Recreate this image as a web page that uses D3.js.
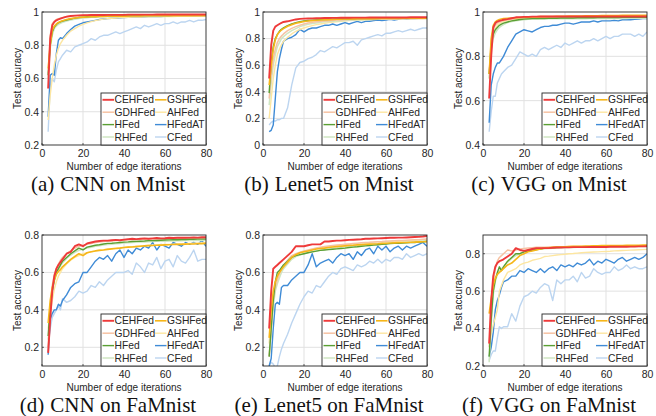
<!DOCTYPE html>
<html><head><meta charset="utf-8">
<script src="https://cdn.jsdelivr.net/npm/d3@7"></script>
<style>body{margin:0;background:#fff}svg{display:block}</style>
</head><body>
<svg id="c" width="656" height="416"></svg>
<script>
const iters = [3,4,5,6,7,8,9,10,12,14,16,18,20,22,24,26,28,30,32,34,36,38,40,42,44,46,48,50,52,54,56,58,60,62,64,66,68,70,72,74,76,78,80];
const methods = ["CEHFed","GDHFed","HFed","RHFed","GSHFed","AHFed","HFedAT","CFed"];
const legendOrder = ["CEHFed","GSHFed","GDHFed","AHFed","HFed","HFedAT","RHFed","CFed"];
const captionTags = ["(a)","(b)","(c)","(d)","(e)","(f)"];
const captionTexts = ["CNN on Mnist","Lenet5 on Mnist","VGG on Mnist","CNN on FaMnist","Lenet5 on FaMnist","VGG on FaMnist"];
const yDomains = [[0.2,1],[0,1],[0.4,1],[0.1,0.8],[0.1,0.8],[0.2,0.9]];
const yTicks = [[0.2,0.4,0.6,0.8,1],[0,0.2,0.4,0.6,0.8,1],[0.4,0.6,0.8,1],[0.2,0.4,0.6,0.8],[0.2,0.4,0.6,0.8],[0.2,0.4,0.6,0.8]];
const xTicks = [0,20,40,60,80];

// series values, in the order of `methods`
const accCnnMnist = [
[0.54,0.84,0.92,0.94,0.95,0.955,0.96,0.965,
 0.972,0.976,0.978,0.98,0.981,0.981,0.982,0.982,0.982,0.982,
 0.983,0.983,0.983,0.983,0.983,0.984,0.984,0.984,0.984,0.984,
 0.984,0.984,0.985,0.985,0.985,0.985,0.985,0.985,0.985,0.985,
 0.985,0.985,0.985,0.985,0.985],
[0.63,0.86,0.93,0.945,0.955,0.96,0.963,0.966,
 0.972,0.975,0.977,0.978,0.979,0.98,0.98,0.98,0.981,0.981,
 0.981,0.981,0.982,0.982,0.982,0.982,0.982,0.982,0.983,0.983,
 0.983,0.983,0.983,0.983,0.983,0.983,0.983,0.983,0.983,0.983,
 0.983,0.983,0.983,0.983,0.983],
[0.62,0.8,0.88,0.91,0.925,0.935,0.94,0.945,
 0.952,0.958,0.963,0.967,0.969,0.971,0.972,0.973,0.974,0.975,
 0.975,0.976,0.976,0.977,0.977,0.977,0.978,0.978,0.978,0.978,
 0.978,0.979,0.979,0.979,0.979,0.979,0.98,0.98,0.98,0.98,
 0.98,0.98,0.98,0.98,0.98],
[0.6,0.78,0.86,0.9,0.915,0.925,0.932,0.938,
 0.946,0.952,0.957,0.961,0.964,0.966,0.968,0.969,0.97,0.971,
 0.972,0.972,0.973,0.973,0.974,0.974,0.974,0.975,0.975,0.975,
 0.975,0.976,0.976,0.976,0.976,0.976,0.977,0.977,0.977,0.977,
 0.977,0.977,0.977,0.977,0.977],
[0.66,0.8,0.89,0.915,0.928,0.937,0.943,0.948,
 0.955,0.96,0.964,0.967,0.969,0.97,0.971,0.972,0.973,0.973,
 0.974,0.974,0.975,0.975,0.975,0.976,0.976,0.976,0.976,0.977,
 0.977,0.977,0.977,0.977,0.977,0.977,0.977,0.977,0.977,0.977,
 0.978,0.978,0.978,0.978,0.978],
[0.35,0.5,0.6,0.68,0.74,0.78,0.81,0.83,
 0.86,0.885,0.9,0.915,0.925,0.935,0.942,0.948,0.953,0.957,
 0.96,0.962,0.964,0.966,0.967,0.968,0.969,0.97,0.97,0.971,
 0.971,0.972,0.972,0.972,0.973,0.973,0.973,0.974,0.974,0.974,
 0.974,0.975,0.975,0.975,0.975],
[0.37,0.62,0.63,0.62,0.75,0.83,0.845,0.84,
 0.87,0.895,0.915,0.925,0.935,0.94,0.945,0.95,0.955,0.958,
 0.96,0.962,0.963,0.965,0.967,0.968,0.969,0.97,0.97,0.971,
 0.972,0.972,0.973,0.973,0.974,0.974,0.975,0.975,0.976,0.976,
 0.977,0.977,0.978,0.978,0.979],
[0.28,0.55,0.6,0.58,0.65,0.7,0.72,0.74,
 0.77,0.76,0.79,0.8,0.81,0.82,0.84,0.83,0.85,0.86,
 0.86,0.87,0.88,0.87,0.88,0.89,0.9,0.91,0.9,0.92,
 0.91,0.92,0.93,0.92,0.93,0.93,0.94,0.93,0.94,0.94,
 0.95,0.94,0.95,0.95,0.955]
];
const accLenetMnist = [
[0.5,0.75,0.86,0.89,0.9,0.91,0.918,0.925,
 0.93,0.937,0.944,0.948,0.95,0.951,0.952,0.953,0.954,0.955,
 0.955,0.956,0.956,0.957,0.957,0.957,0.958,0.958,0.958,0.958,
 0.959,0.959,0.959,0.959,0.959,0.959,0.959,0.959,0.959,0.959,
 0.96,0.96,0.96,0.96,0.96],
[0.35,0.52,0.65,0.72,0.77,0.8,0.82,0.835,
 0.86,0.877,0.89,0.9,0.91,0.917,0.922,0.927,0.93,0.933,
 0.935,0.937,0.939,0.94,0.942,0.943,0.944,0.945,0.946,0.947,
 0.947,0.948,0.948,0.949,0.949,0.95,0.95,0.95,0.951,0.951,
 0.951,0.952,0.952,0.952,0.953],
[0.39,0.62,0.74,0.8,0.83,0.855,0.87,0.88,
 0.897,0.91,0.92,0.927,0.932,0.936,0.939,0.941,0.943,0.944,
 0.945,0.946,0.947,0.948,0.948,0.949,0.949,0.95,0.95,0.95,
 0.951,0.951,0.951,0.952,0.952,0.952,0.953,0.953,0.953,0.953,
 0.954,0.954,0.954,0.955,0.955],
[0.3,0.47,0.6,0.68,0.74,0.77,0.8,0.815,
 0.84,0.86,0.875,0.89,0.9,0.907,0.913,0.918,0.922,0.926,
 0.929,0.931,0.933,0.935,0.937,0.938,0.94,0.941,0.942,0.943,
 0.944,0.945,0.946,0.946,0.947,0.948,0.948,0.949,0.949,0.95,
 0.95,0.951,0.951,0.952,0.952],
[0.45,0.6,0.72,0.79,0.83,0.85,0.865,0.875,
 0.893,0.905,0.915,0.922,0.928,0.932,0.935,0.938,0.94,0.942,
 0.943,0.944,0.945,0.946,0.947,0.948,0.948,0.949,0.949,0.95,
 0.95,0.95,0.951,0.951,0.951,0.952,0.952,0.952,0.953,0.953,
 0.953,0.953,0.954,0.954,0.954],
[0.2,0.35,0.5,0.6,0.68,0.72,0.755,0.78,
 0.81,0.835,0.855,0.87,0.88,0.89,0.898,0.905,0.91,0.915,
 0.92,0.924,0.927,0.93,0.933,0.935,0.937,0.939,0.94,0.942,
 0.943,0.944,0.945,0.946,0.947,0.947,0.948,0.948,0.949,0.949,
 0.95,0.95,0.95,0.951,0.951],
[0.1,0.11,0.15,0.35,0.55,0.65,0.72,0.78,
 0.8,0.81,0.83,0.87,0.85,0.87,0.88,0.88,0.89,0.9,
 0.9,0.91,0.9,0.91,0.92,0.91,0.92,0.93,0.92,0.93,
 0.93,0.935,0.94,0.935,0.94,0.945,0.94,0.945,0.95,0.945,
 0.95,0.95,0.952,0.955,0.955],
[0.15,0.17,0.18,0.18,0.19,0.19,0.2,0.2,
 0.28,0.45,0.58,0.62,0.63,0.65,0.66,0.68,0.71,0.7,
 0.72,0.74,0.73,0.75,0.77,0.77,0.78,0.75,0.79,0.8,
 0.81,0.82,0.83,0.82,0.84,0.84,0.85,0.86,0.85,0.86,
 0.87,0.86,0.87,0.88,0.88]
];
const accVggMnist = [
[0.61,0.8,0.93,0.95,0.957,0.96,0.962,0.965,
 0.968,0.972,0.976,0.977,0.978,0.978,0.979,0.979,0.98,0.98,
 0.98,0.98,0.98,0.98,0.98,0.98,0.98,0.98,0.98,0.98,
 0.98,0.98,0.98,0.98,0.98,0.98,0.98,0.98,0.98,0.98,
 0.98,0.98,0.98,0.98,0.98],
[0.72,0.87,0.92,0.94,0.95,0.955,0.96,0.963,
 0.966,0.968,0.97,0.971,0.972,0.973,0.974,0.975,0.975,0.976,
 0.976,0.977,0.977,0.977,0.978,0.978,0.978,0.978,0.979,0.979,
 0.979,0.979,0.979,0.979,0.979,0.979,0.979,0.979,0.979,0.979,
 0.98,0.98,0.98,0.98,0.98],
[0.72,0.85,0.9,0.92,0.93,0.94,0.945,0.95,
 0.955,0.96,0.963,0.966,0.968,0.969,0.97,0.97,0.971,0.971,
 0.972,0.972,0.972,0.973,0.973,0.973,0.973,0.974,0.974,0.974,
 0.974,0.974,0.975,0.975,0.975,0.975,0.975,0.975,0.976,0.976,
 0.976,0.976,0.976,0.976,0.976],
[0.7,0.83,0.88,0.905,0.92,0.93,0.937,0.943,
 0.952,0.957,0.96,0.963,0.965,0.967,0.968,0.968,0.969,0.969,
 0.97,0.97,0.97,0.97,0.97,0.97,0.97,0.97,0.97,0.97,
 0.971,0.971,0.971,0.971,0.971,0.971,0.971,0.971,0.971,0.971,
 0.972,0.972,0.972,0.972,0.972],
[0.72,0.88,0.94,0.955,0.962,0.966,0.968,0.97,
 0.972,0.973,0.974,0.975,0.976,0.977,0.978,0.978,0.979,0.979,
 0.98,0.98,0.981,0.981,0.981,0.982,0.982,0.982,0.982,0.983,
 0.983,0.983,0.983,0.984,0.984,0.984,0.984,0.984,0.985,0.985,
 0.985,0.985,0.985,0.985,0.985],
[0.7,0.84,0.9,0.925,0.94,0.948,0.953,0.957,
 0.962,0.965,0.967,0.969,0.97,0.971,0.972,0.973,0.974,0.974,
 0.975,0.975,0.976,0.976,0.976,0.977,0.977,0.977,0.977,0.978,
 0.978,0.978,0.978,0.978,0.978,0.978,0.978,0.978,0.978,0.978,
 0.979,0.979,0.979,0.979,0.979],
[0.5,0.67,0.72,0.75,0.77,0.77,0.785,0.8,
 0.84,0.87,0.9,0.91,0.92,0.915,0.91,0.92,0.93,0.935,
 0.935,0.94,0.94,0.945,0.95,0.95,0.945,0.95,0.955,0.955,
 0.955,0.96,0.955,0.96,0.96,0.96,0.962,0.96,0.965,0.965,
 0.965,0.967,0.968,0.97,0.97],
[0.46,0.55,0.62,0.62,0.68,0.7,0.72,0.73,
 0.75,0.76,0.79,0.82,0.81,0.8,0.81,0.8,0.83,0.84,
 0.83,0.84,0.85,0.84,0.86,0.85,0.86,0.87,0.86,0.87,
 0.87,0.88,0.87,0.88,0.89,0.88,0.89,0.89,0.9,0.9,
 0.9,0.89,0.9,0.89,0.91]
];
const accCnnFaMnist = [
[0.17,0.35,0.5,0.58,0.62,0.64,0.655,0.67,
 0.7,0.71,0.74,0.75,0.74,0.755,0.76,0.765,0.768,0.77,
 0.77,0.772,0.774,0.772,0.775,0.778,0.78,0.778,0.78,0.782,
 0.78,0.782,0.784,0.782,0.783,0.785,0.784,0.785,0.786,0.785,
 0.786,0.787,0.786,0.788,0.788],
[0.2,0.4,0.53,0.59,0.62,0.645,0.665,0.68,
 0.7,0.715,0.73,0.74,0.745,0.75,0.755,0.76,0.762,0.765,
 0.767,0.768,0.77,0.771,0.772,0.773,0.774,0.775,0.776,0.777,
 0.777,0.778,0.778,0.779,0.779,0.78,0.78,0.78,0.781,0.781,
 0.781,0.782,0.782,0.782,0.783],
[0.26,0.42,0.5,0.56,0.6,0.62,0.64,0.66,
 0.68,0.7,0.715,0.73,0.72,0.735,0.74,0.745,0.748,0.752,
 0.755,0.756,0.758,0.76,0.762,0.763,0.765,0.766,0.767,0.768,
 0.77,0.77,0.771,0.772,0.773,0.774,0.775,0.775,0.776,0.776,
 0.777,0.777,0.778,0.778,0.778],
[0.24,0.4,0.49,0.55,0.59,0.615,0.635,0.65,
 0.675,0.693,0.707,0.718,0.725,0.73,0.735,0.74,0.743,0.746,
 0.749,0.751,0.753,0.755,0.757,0.758,0.76,0.761,0.762,0.763,
 0.764,0.765,0.766,0.766,0.767,0.768,0.768,0.769,0.769,0.77,
 0.77,0.77,0.771,0.771,0.772],
[0.33,0.45,0.52,0.56,0.59,0.605,0.615,0.63,
 0.65,0.67,0.685,0.7,0.69,0.705,0.71,0.715,0.718,0.72,
 0.723,0.726,0.728,0.73,0.733,0.735,0.736,0.738,0.74,0.742,
 0.743,0.744,0.745,0.746,0.747,0.748,0.749,0.75,0.75,0.751,
 0.752,0.752,0.753,0.754,0.755],
[0.3,0.38,0.45,0.51,0.55,0.58,0.6,0.62,
 0.645,0.665,0.68,0.69,0.7,0.705,0.71,0.715,0.72,0.722,
 0.725,0.727,0.73,0.732,0.734,0.736,0.738,0.74,0.742,0.743,
 0.745,0.746,0.747,0.748,0.749,0.75,0.751,0.752,0.753,0.754,
 0.755,0.756,0.757,0.758,0.76],
[0.16,0.35,0.38,0.4,0.4,0.43,0.42,0.45,
 0.48,0.52,0.54,0.55,0.6,0.6,0.63,0.66,0.68,0.67,
 0.69,0.66,0.7,0.72,0.68,0.72,0.7,0.73,0.72,0.74,
 0.73,0.76,0.72,0.75,0.74,0.73,0.76,0.75,0.74,0.76,
 0.75,0.76,0.75,0.77,0.74],
[0.2,0.3,0.36,0.38,0.4,0.42,0.4,0.46,
 0.44,0.45,0.47,0.5,0.49,0.5,0.53,0.52,0.55,0.53,
 0.56,0.58,0.6,0.6,0.6,0.61,0.59,0.65,0.63,0.6,
 0.65,0.64,0.68,0.62,0.66,0.67,0.63,0.69,0.66,0.65,
 0.68,0.72,0.66,0.67,0.67]
];
const accLenetFaMnist = [
[0.3,0.5,0.62,0.63,0.64,0.65,0.66,0.67,
 0.69,0.71,0.74,0.74,0.74,0.745,0.75,0.75,0.75,0.765,
 0.765,0.768,0.77,0.77,0.772,0.774,0.775,0.776,0.777,0.78,
 0.78,0.781,0.782,0.783,0.784,0.785,0.785,0.786,0.786,0.787,
 0.788,0.789,0.79,0.792,0.795],
[0.15,0.3,0.45,0.52,0.56,0.59,0.62,0.64,
 0.665,0.69,0.7,0.708,0.715,0.72,0.725,0.73,0.735,0.738,
 0.741,0.744,0.746,0.748,0.75,0.752,0.754,0.756,0.758,0.76,
 0.761,0.763,0.764,0.765,0.767,0.768,0.769,0.77,0.771,0.772,
 0.773,0.774,0.775,0.777,0.778],
[0.15,0.3,0.45,0.55,0.6,0.61,0.625,0.64,
 0.66,0.68,0.69,0.695,0.7,0.705,0.71,0.714,0.718,0.72,
 0.722,0.724,0.726,0.728,0.73,0.733,0.735,0.737,0.74,0.742,
 0.744,0.746,0.748,0.75,0.752,0.754,0.755,0.756,0.757,0.758,
 0.759,0.76,0.762,0.763,0.765],
[0.15,0.28,0.42,0.5,0.54,0.57,0.6,0.62,
 0.645,0.67,0.685,0.693,0.7,0.706,0.711,0.715,0.72,0.723,
 0.726,0.729,0.731,0.734,0.736,0.739,0.741,0.743,0.745,0.747,
 0.749,0.751,0.753,0.754,0.755,0.757,0.758,0.759,0.76,0.762,
 0.763,0.765,0.766,0.768,0.77],
[0.25,0.4,0.5,0.55,0.58,0.6,0.615,0.63,
 0.655,0.68,0.695,0.705,0.71,0.715,0.72,0.725,0.728,0.73,
 0.733,0.736,0.738,0.74,0.742,0.744,0.745,0.747,0.748,0.75,
 0.751,0.752,0.753,0.755,0.756,0.757,0.758,0.759,0.76,0.76,
 0.761,0.762,0.763,0.764,0.765],
[0.22,0.38,0.48,0.53,0.57,0.6,0.615,0.63,
 0.655,0.68,0.695,0.705,0.71,0.716,0.721,0.726,0.73,0.733,
 0.736,0.739,0.742,0.745,0.748,0.75,0.752,0.754,0.756,0.758,
 0.76,0.761,0.763,0.764,0.765,0.766,0.767,0.768,0.769,0.77,
 0.771,0.772,0.773,0.774,0.775],
[0.1,0.14,0.3,0.43,0.44,0.43,0.52,0.53,
 0.53,0.56,0.58,0.6,0.6,0.64,0.7,0.63,0.65,0.66,
 0.67,0.65,0.68,0.7,0.69,0.7,0.67,0.71,0.69,0.72,
 0.73,0.7,0.74,0.72,0.74,0.71,0.73,0.74,0.72,0.74,
 0.73,0.74,0.75,0.76,0.74],
[0.1,0.12,0.11,0.09,0.1,0.15,0.19,0.22,
 0.27,0.33,0.38,0.43,0.47,0.5,0.49,0.53,0.52,0.55,
 0.58,0.6,0.59,0.62,0.63,0.62,0.61,0.64,0.63,0.64,
 0.66,0.65,0.67,0.65,0.67,0.66,0.68,0.68,0.67,0.7,
 0.68,0.69,0.7,0.69,0.7]
];
const accVggFaMnist = [
[0.32,0.55,0.68,0.73,0.75,0.76,0.765,0.77,
 0.785,0.8,0.83,0.82,0.815,0.82,0.825,0.83,0.83,0.83,
 0.83,0.832,0.833,0.833,0.834,0.834,0.835,0.835,0.835,0.835,
 0.836,0.836,0.836,0.836,0.836,0.837,0.837,0.837,0.837,0.837,
 0.838,0.838,0.839,0.839,0.84],
[0.3,0.5,0.65,0.72,0.76,0.78,0.79,0.8,
 0.82,0.815,0.82,0.825,0.828,0.83,0.832,0.834,0.835,0.835,
 0.836,0.836,0.837,0.837,0.837,0.838,0.838,0.838,0.839,0.839,
 0.839,0.84,0.84,0.84,0.84,0.84,0.84,0.84,0.84,0.84,
 0.84,0.841,0.841,0.841,0.842],
[0.25,0.45,0.6,0.66,0.7,0.73,0.71,0.73,
 0.76,0.78,0.8,0.8,0.81,0.815,0.82,0.822,0.825,0.83,
 0.831,0.832,0.833,0.834,0.835,0.836,0.836,0.837,0.837,0.838,
 0.838,0.839,0.839,0.84,0.84,0.84,0.841,0.841,0.841,0.842,
 0.842,0.842,0.843,0.843,0.843],
[0.22,0.42,0.58,0.65,0.69,0.71,0.72,0.73,
 0.755,0.775,0.79,0.8,0.81,0.815,0.818,0.822,0.825,0.827,
 0.828,0.829,0.83,0.831,0.832,0.833,0.833,0.834,0.834,0.835,
 0.835,0.836,0.836,0.836,0.837,0.837,0.837,0.838,0.838,0.838,
 0.838,0.839,0.839,0.839,0.84],
[0.48,0.56,0.63,0.67,0.69,0.7,0.71,0.72,
 0.74,0.75,0.77,0.79,0.8,0.81,0.815,0.82,0.825,0.83,
 0.832,0.834,0.835,0.836,0.837,0.838,0.839,0.84,0.84,0.841,
 0.841,0.842,0.842,0.843,0.843,0.843,0.844,0.844,0.844,0.845,
 0.845,0.845,0.845,0.846,0.846],
[0.32,0.37,0.42,0.46,0.5,0.6,0.63,0.66,
 0.7,0.71,0.72,0.74,0.75,0.755,0.765,0.77,0.775,0.785,
 0.787,0.79,0.793,0.795,0.797,0.8,0.801,0.803,0.805,0.807,
 0.808,0.809,0.81,0.811,0.812,0.813,0.815,0.816,0.817,0.818,
 0.819,0.82,0.821,0.822,0.823],
[0.25,0.3,0.38,0.5,0.55,0.58,0.62,0.65,
 0.66,0.68,0.68,0.71,0.7,0.72,0.71,0.7,0.72,0.7,
 0.72,0.73,0.71,0.74,0.73,0.74,0.73,0.75,0.74,0.75,
 0.77,0.74,0.76,0.75,0.77,0.76,0.75,0.77,0.78,0.76,
 0.77,0.78,0.77,0.78,0.8],
[0.23,0.26,0.28,0.28,0.35,0.41,0.4,0.41,
 0.41,0.48,0.44,0.52,0.57,0.58,0.6,0.59,0.62,0.64,
 0.63,0.55,0.66,0.64,0.66,0.66,0.68,0.65,0.7,0.67,
 0.68,0.72,0.7,0.69,0.7,0.7,0.73,0.71,0.72,0.74,
 0.72,0.73,0.72,0.72,0.73]
];
const panelData = [accCnnMnist, accLenetMnist, accVggMnist, accCnnFaMnist, accLenetFaMnist, accVggFaMnist];

// styles
const colors = {CEHFed:"#ee3a3a",GDHFed:"#f6c2a3",HFed:"#5a9f33",RHFed:"#cfe6c2",GSHFed:"#f6b619",AHFed:"#fde6a0",HFedAT:"#3f8bd6",CFed:"#bcd5f0"};
const widths = {CEHFed:1.9,GDHFed:1.5,HFed:1.4,RHFed:1.5,GSHFed:1.6,AHFed:1.4,HFedAT:1.4,CFed:1.4};
const drawOrder = ["CFed","HFedAT","AHFed","RHFed","GDHFed","HFed","GSHFed","CEHFed"];

const colLeft = [42,263,483], plotW = 164;
const rowTop = [12,235], rowBottom = [145,366];
const sans = "'Liberation Sans', Arial, Helvetica, sans-serif";
const serif = "'Liberation Serif', 'Times New Roman', serif";
const ink = "#262626";

const svg = d3.select("#c");
const defs = svg.append("defs");

panelData.forEach((series, i) => {
  const col = i % 3, row = Math.floor(i / 3);
  const L = colLeft[col], R = L + plotW, T = rowTop[row], B = rowBottom[row];
  const x = d3.scaleLinear().domain([0, 80]).range([L, R]);
  const y = d3.scaleLinear().domain(yDomains[i]).range([B, T]);
  const g = svg.append("g");

  g.append("rect").attr("x", L).attr("y", T).attr("width", R - L).attr("height", B - T).attr("fill", "#fff");

  // grid
  g.append("g").selectAll("line").data(xTicks.filter(v => v > 0 && v < 80)).join("line")
    .attr("x1", d => x(d)).attr("x2", d => x(d)).attr("y1", T).attr("y2", B)
    .attr("stroke", "#e1e1e1").attr("stroke-width", 1);
  g.append("g").selectAll("line").data(yTicks[i].filter(v => y(v) > T + 0.5 && y(v) < B - 0.5)).join("line")
    .attr("x1", L).attr("x2", R).attr("y1", d => y(d)).attr("y2", d => y(d))
    .attr("stroke", "#e1e1e1").attr("stroke-width", 1);

  // lines
  const cid = "clip" + i;
  defs.append("clipPath").attr("id", cid).append("rect")
    .attr("x", L).attr("y", T).attr("width", R - L).attr("height", B - T);
  const line = d3.line().x((d, j) => x(iters[j])).y(d => y(d));
  const lg = g.append("g").attr("clip-path", `url(#${cid})`);
  drawOrder.forEach(m => {
    const k = methods.indexOf(m);
    lg.append("path").attr("d", line(series[k])).attr("fill", "none")
      .attr("stroke", colors[m]).attr("stroke-width", widths[m])
      .attr("stroke-linejoin", "round");
  });

  // axes
  const ax = g.append("g").attr("transform", `translate(0,${B})`)
    .call(d3.axisBottom(x).tickValues(xTicks).tickSize(0).tickPadding(5).tickFormat(d => String(d)));
  ax.select(".domain").remove();
  ax.selectAll("text").attr("font-family", sans).attr("font-size", 10.5).attr("fill", ink);
  const ay = g.append("g").attr("transform", `translate(${L},0)`)
    .call(d3.axisLeft(y).tickValues(yTicks[i]).tickSize(0).tickPadding(3).tickFormat(d => String(d)));
  ay.select(".domain").remove();
  ay.selectAll("text").attr("font-family", sans).attr("font-size", 10.5).attr("fill", ink);

  // inner tick marks
  g.append("g").selectAll("line").data(xTicks).join("line")
    .attr("x1", d => x(d)).attr("x2", d => x(d)).attr("y1", B).attr("y2", B - 2)
    .attr("stroke", ink).attr("stroke-width", 0.7);
  g.append("g").selectAll("line").data(yTicks[i]).join("line")
    .attr("x1", L).attr("x2", L + 2).attr("y1", d => y(d)).attr("y2", d => y(d))
    .attr("stroke", ink).attr("stroke-width", 0.7);

  // box
  g.append("rect").attr("x", L).attr("y", T).attr("width", R - L).attr("height", B - T)
    .attr("fill", "none").attr("stroke", ink).attr("stroke-width", 0.9);

  // axis titles
  g.append("text").attr("x", (L + R) / 2).attr("y", B + 25).attr("text-anchor", "middle")
    .attr("font-family", sans).attr("font-size", 10).attr("fill", ink).text("Number of edge iterations");
  g.append("text").attr("transform", `translate(${L - 21},${(T + B) / 2}) rotate(-90)`)
    .attr("text-anchor", "middle").attr("font-family", sans).attr("font-size", 10).attr("fill", ink)
    .text("Test accuracy");

  // legend
  const lw = 105, lh = 52, lx = R - lw, ly = B - lh;
  const leg = g.append("g");
  leg.append("rect").attr("x", lx).attr("y", ly).attr("width", lw).attr("height", lh)
    .attr("fill", "#fff").attr("stroke", ink).attr("stroke-width", 0.9);
  legendOrder.forEach((m, j) => {
    const c = j % 2, r = Math.floor(j / 2);
    const ex = lx + (c === 0 ? 1.5 : 54), ey = ly + 6.8 + r * 12.4;
    leg.append("line").attr("x1", ex).attr("x2", ex + 11.5).attr("y1", ey).attr("y2", ey)
      .attr("stroke", colors[m]).attr("stroke-width", widths[m]);
    leg.append("text").attr("x", ex + 12).attr("y", ey).attr("dy", "0.35em")
      .attr("font-family", sans).attr("font-size", 10.3).attr("fill", ink).text(m);
  });

  // caption
  const cap = g.append("text").attr("x", L + 66).attr("y", B + 46).attr("text-anchor", "middle")
    .attr("font-family", serif).attr("font-size", 21).attr("fill", "#111");
  cap.append("tspan").text(captionTags[i]);
  cap.append("tspan").attr("dx", 6).text(captionTexts[i]);
});
</script>
</body></html>
